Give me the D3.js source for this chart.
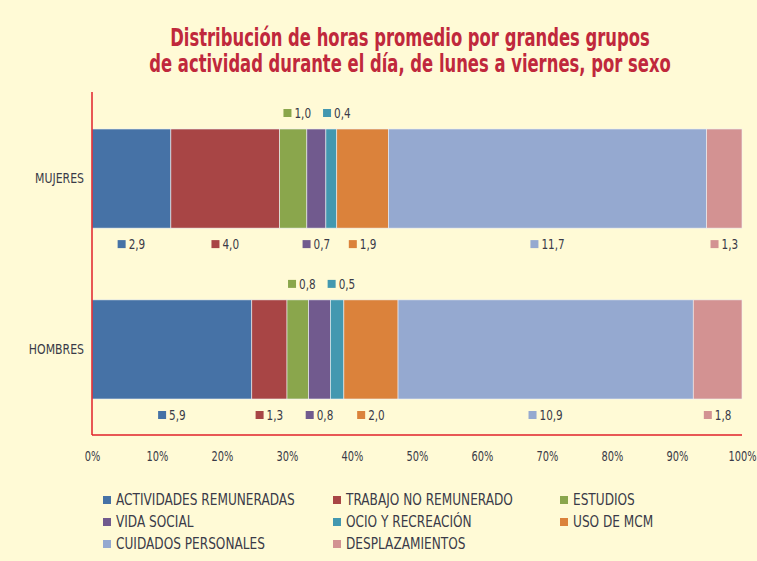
<!DOCTYPE html>
<html><head><meta charset="utf-8">
<script src="https://cdn.jsdelivr.net/npm/d3@7"></script>
<style>
html,body{margin:0;padding:0;background:#fffad6;}
svg{display:block;}
text{font-family:"Liberation Sans Narrow","DejaVu Sans Condensed","Arial Narrow",sans-serif;}
</style></head>
<body><svg id="c" width="757" height="561"></svg>
<script>
const titleLines = ["Distribución de horas promedio por grandes grupos", "de actividad durante el día, de lunes a viernes, por sexo"];
const categories = ["MUJERES", "HOMBRES"];
const seriesNames = ["ACTIVIDADES REMUNERADAS", "TRABAJO NO REMUNERADO", "ESTUDIOS", "VIDA SOCIAL", "OCIO Y RECREACIÓN", "USO DE MCM", "CUIDADOS PERSONALES", "DESPLAZAMIENTOS"];
const mujeres = [2.9, 4.0, 1.0, 0.7, 0.4, 1.9, 11.7, 1.3];
const hombres = [5.9, 1.3, 0.8, 0.8, 0.5, 2.0, 10.9, 1.8];
const xTicks = [0, 0.1, 0.2, 0.3, 0.4, 0.5, 0.6, 0.7, 0.8, 0.9, 1.0];
const colors = ["#4672a6", "#a84545", "#8aa64c", "#715a8e", "#4398b0", "#db823b", "#95a9d0", "#d39292"];
const labelsAbove = ["ESTUDIOS", "OCIO Y RECREACIÓN"];

const values = [mujeres, hombres];
const svg = d3.select("#c");
svg.append("rect").attr("width", 757).attr("height", 561).attr("fill", "#fffad6");

const fmt = d3.formatLocale({decimal: ",", thousands: ".", grouping: [3], currency: ["", ""]}).format(".1f");
const pct = d3.format(".0%");

// compress text horizontally (narrow font look) via transform
function narrow(sel, f) {
  sel.each(function() {
    const t = d3.select(this);
    const tx = +t.attr("x") || 0, ty = +t.attr("y") || 0;
    t.attr("x", 0).attr("y", 0).attr("transform", `translate(${tx},${ty}) scale(${f},1)`);
  });
}

// Title
const title = svg.append("g").selectAll("text").data(titleLines).join("text")
  .attr("x", 410).attr("y", (d, i) => 46 + i * 26)
  .attr("text-anchor", "middle")
  .attr("font-size", 24).attr("font-weight", "bold")
  .attr("fill", "#c0283c")
  .text(d => d);
narrow(title, 0.76);

const x = d3.scaleLinear().domain([0, 1]).range([92, 742]);
const y = d3.scaleBand().domain(categories).range([129, 399]).paddingInner(0.42).paddingOuter(0);
const color = d3.scaleOrdinal().domain(seriesNames).range(colors);

const rows = categories.map((c, i) => {
  const o = {cat: c};
  seriesNames.forEach((s, j) => o[s] = values[i][j]);
  return o;
});
const stacked = d3.stack().keys(seriesNames).offset(d3.stackOffsetExpand)(rows);

const gBars = svg.append("g");
stacked.forEach(layer => {
  gBars.append("g").attr("fill", color(layer.key))
    .selectAll("rect").data(layer).join("rect")
    .attr("x", d => x(d[0]))
    .attr("y", d => y(d.data.cat))
    .attr("width", d => x(d[1]) - x(d[0]))
    .attr("height", y.bandwidth())
    .attr("stroke", "#eef0f4").attr("stroke-width", 0.6);
});

// Axis frame (red)
svg.append("line").attr("x1", x(0)).attr("x2", x(0)).attr("y1", 92).attr("y2", 435)
  .attr("stroke", "#e0202a").attr("stroke-width", 1.5);
svg.append("line").attr("x1", x(0)).attr("x2", x(1)).attr("y1", 435).attr("y2", 435)
  .attr("stroke", "#e0202a").attr("stroke-width", 1.5);

// X tick labels
const xAxis = d3.axisBottom(x).tickValues(xTicks).tickFormat(pct).tickSize(0).tickPadding(0);
const gx = svg.append("g").attr("transform", "translate(0,451)").call(xAxis);
gx.select(".domain").remove();
gx.selectAll("text").attr("font-size", 14).attr("fill", "#3a3a48")
  .attr("font-family", '"Liberation Sans Narrow","DejaVu Sans Condensed",sans-serif');
narrow(gx.selectAll("text"), 0.78);

// Category labels
const yAxis = d3.axisLeft(y).tickSize(0).tickPadding(8);
const gy = svg.append("g").attr("transform", `translate(${x(0)},0)`).call(yAxis);
gy.select(".domain").remove();
gy.selectAll("text").attr("font-size", 13.5).attr("fill", "#3a3a48")
  .attr("font-family", '"Liberation Sans Narrow","DejaVu Sans Condensed",sans-serif');
narrow(gy.selectAll("text"), 0.9);

// Data labels
const gLab = svg.append("g");
stacked.forEach(layer => {
  layer.forEach((d, i) => {
    const above = labelsAbove.includes(layer.key);
    const cx = (x(d[0]) + x(d[1])) / 2;
    const cy = above ? y(d.data.cat) - 16 : y(d.data.cat) + y.bandwidth() + 16;
    const v = values[i][seriesNames.indexOf(layer.key)];
    const g = gLab.append("g").attr("class", "lab").datum({above, cat: d.data.cat, cx, cy});
    g.append("rect").attr("width", 8).attr("height", 8).attr("y", cy - 4).attr("fill", color(layer.key));
    const t = g.append("text").attr("dy", "0.36em").attr("font-size", 14.5)
      .attr("fill", "#3a3a48").text(fmt(v));
    const w = 11 + t.node().getComputedTextLength() * 0.8;
    g.datum().left = cx - w / 2; g.datum().w = w;
  });
});
categories.forEach(c => {
  const labs = gLab.selectAll("g.lab").filter(d => d.cat === c && d.above).nodes();
  let prevRight = -Infinity;
  labs.forEach(n => {
    const d = d3.select(n).datum();
    d.left += 4;
    if (d.left < prevRight + 12) d.left = prevRight + 12;
    prevRight = d.left + d.w;
  });
});
gLab.selectAll("g.lab").each(function(d) {
  const g = d3.select(this);
  g.select("rect").attr("x", d.left);
  g.select("text").attr("transform", `translate(${d.left + 11},${d.cy}) scale(0.8,1)`);
});

// Legend
const legX = [103, 333, 560];
const legend = svg.append("g").selectAll("g").data(seriesNames).join("g")
  .attr("transform", (d, i) => `translate(${legX[i % 3]},${500 + Math.floor(i / 3) * 22})`);
legend.append("rect").attr("y", -4).attr("width", 8).attr("height", 8).attr("fill", d => color(d));
const lt = legend.append("text").attr("x", 13).attr("dy", "0.36em").attr("font-size", 15)
  .attr("fill", "#3a3a48").text(d => d);
narrow(lt, 0.9);
</script></body></html>
